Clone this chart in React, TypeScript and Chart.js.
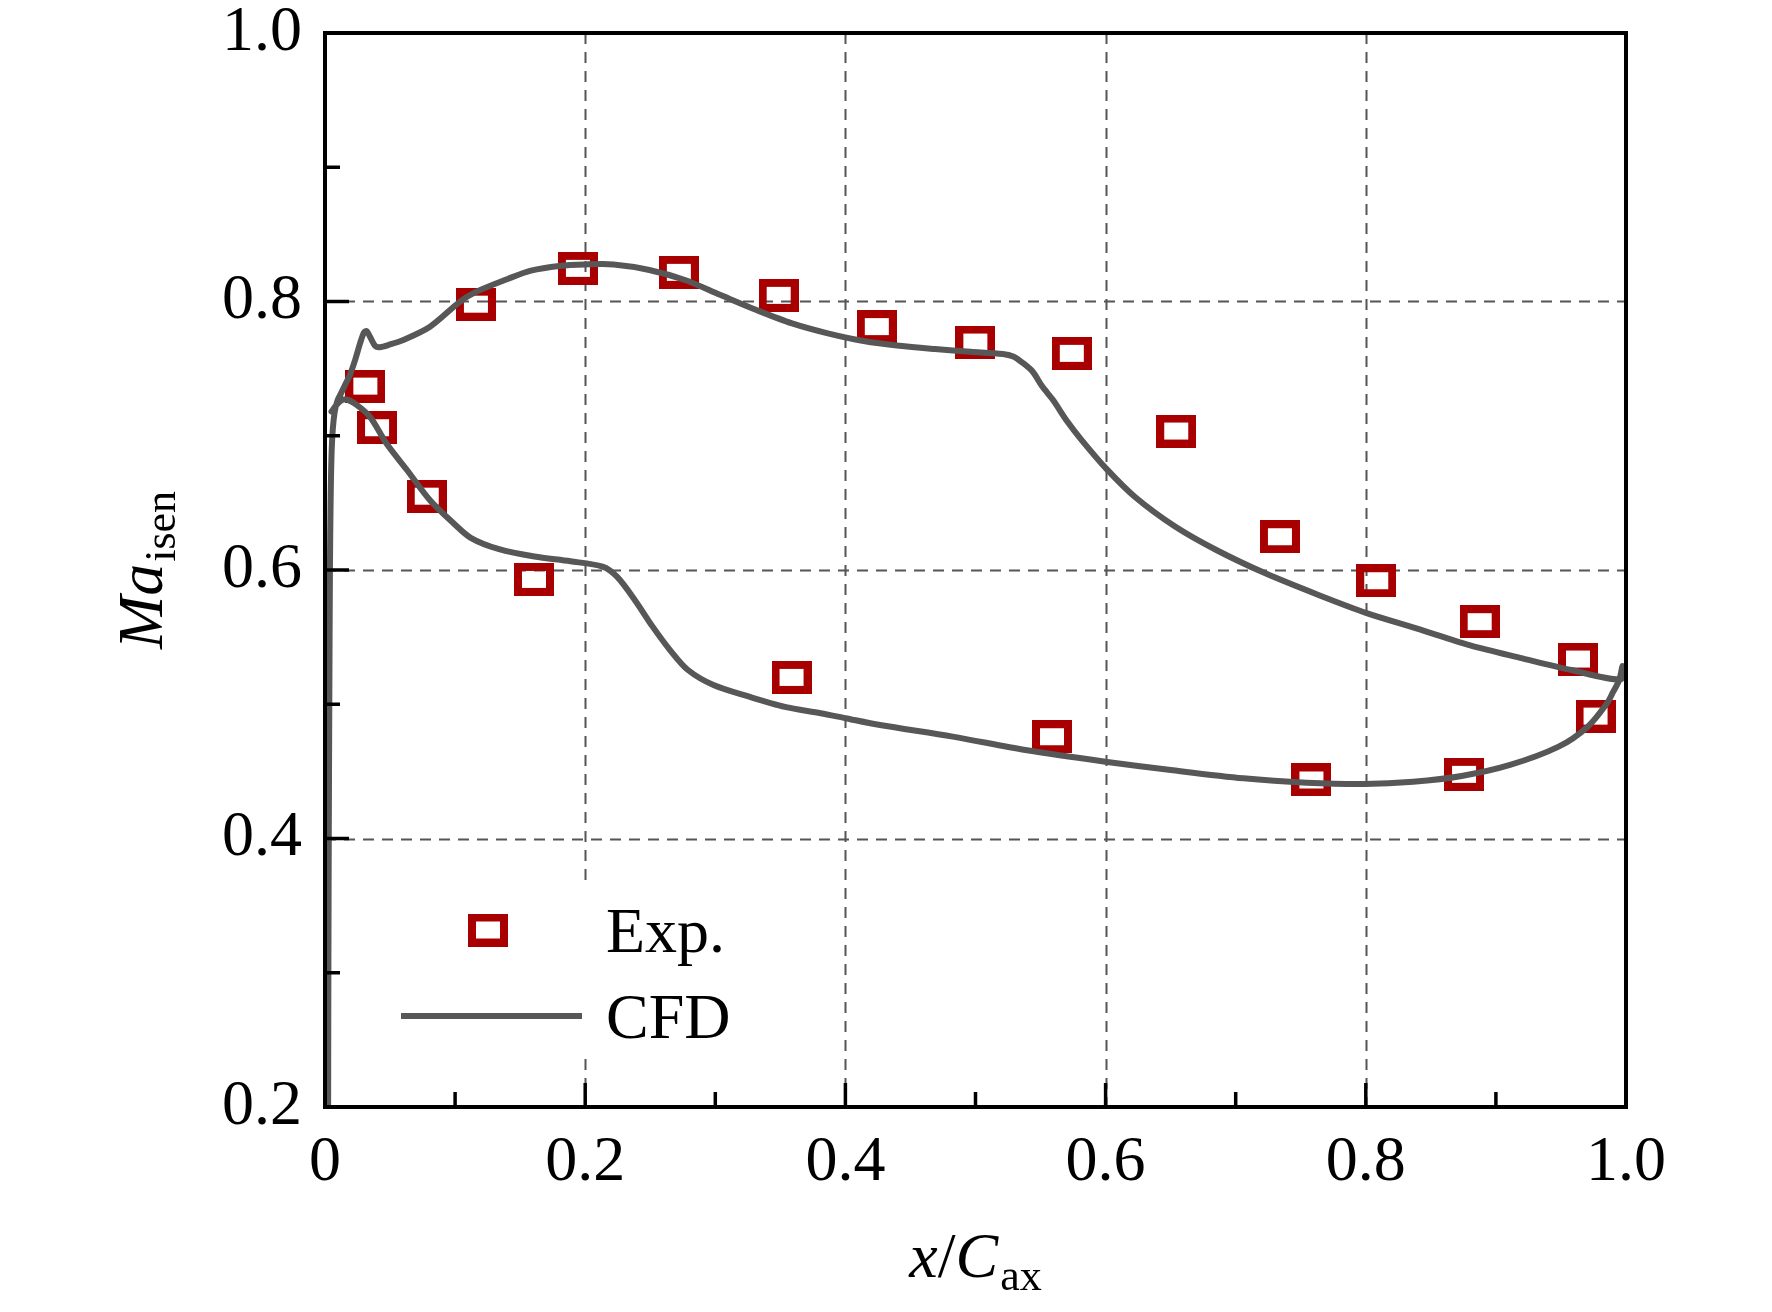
import React, { useEffect, useRef } from 'react';
import { Chart, registerables } from 'chart.js';

Chart.register(...registerables);

// ---------------- data ----------------
const expX = [0.031, 0.040, 0.0782, 0.116, 0.1606, 0.1944, 0.272, 0.3487, 0.3586, 0.4241, 0.4999,
  0.5588, 0.574, 0.6543, 0.734, 0.7582, 0.8080, 0.8755, 0.8875, 0.9631, 0.9766];
const expY = [0.737, 0.706, 0.655, 0.798, 0.593, 0.8247, 0.8217, 0.8046, 0.520, 0.7813, 0.7698,
  0.4758, 0.7614, 0.7035, 0.6248, 0.4436, 0.592, 0.4478, 0.5615, 0.5337, 0.4912];

const cfdX = [
  0.0024, 0.0026, 0.0029, 0.0033, 0.0038, 0.0043, 0.0050, 0.0060, 0.0075, 0.0095, 0.0120,
  0.0150, 0.0190, 0.0230, 0.0270, 0.0300, 0.0320, 0.0350, 0.0385, 0.0420, 0.0500, 0.0602,
  0.0807, 0.1038, 0.1157, 0.1409, 0.1583, 0.1800, 0.2000, 0.2218, 0.2493, 0.2767, 0.3041,
  0.3316, 0.3590, 0.3865, 0.4140, 0.4414, 0.4689, 0.4963, 0.5210, 0.5290, 0.5360, 0.5440,
  0.5511, 0.5596, 0.5703, 0.5816, 0.6003, 0.6224, 0.6537, 0.6851, 0.7228, 0.7636, 0.8012,
  0.8388, 0.8796, 0.9204, 0.9580, 0.9960, 0.9972,
  0.9948, 0.9900, 0.9854, 0.9706, 0.9482, 0.9109, 0.8737, 0.8364, 0.7991, 0.7545, 0.7060,
  0.6501, 0.5998, 0.5383, 0.4825, 0.4266, 0.4000, 0.3810, 0.3535, 0.3260, 0.2986, 0.2790,
  0.2655, 0.2517, 0.2381, 0.2244, 0.2133, 0.1887, 0.1610, 0.1338, 0.1120, 0.0986, 0.0807,
  0.0630, 0.0474, 0.0346, 0.0243, 0.0167, 0.0120, 0.0080, 0.0050,
];
const cfdY = [
  0.200, 0.300, 0.400, 0.500, 0.600, 0.650, 0.685, 0.705, 0.718, 0.726, 0.731,
  0.737, 0.745, 0.756, 0.769, 0.777, 0.778, 0.773, 0.767, 0.766, 0.768, 0.7713,
  0.7812, 0.7999, 0.807, 0.817, 0.823, 0.8265, 0.8276, 0.8276, 0.8235, 0.8160, 0.8048,
  0.7937, 0.7837, 0.7763, 0.7706, 0.7670, 0.7646, 0.7626, 0.7609, 0.7590, 0.7545, 0.7477,
  0.7370, 0.7266, 0.7110, 0.6968, 0.6757, 0.6546, 0.6322, 0.6149, 0.5975, 0.5814, 0.5677,
  0.5566, 0.5441, 0.5342, 0.5255, 0.5185, 0.5285,
  0.5180, 0.5090, 0.5007, 0.4833, 0.4684, 0.4548, 0.4466, 0.4423, 0.4406, 0.4416, 0.4448,
  0.4510, 0.4572, 0.4659, 0.4759, 0.4845, 0.4896, 0.4933, 0.4980, 0.5056, 0.5143, 0.5255,
  0.5400, 0.5580, 0.5777, 0.5950, 0.6025, 0.6065, 0.6100, 0.6155, 0.6240, 0.6350, 0.6520,
  0.6745, 0.6940, 0.7140, 0.7230, 0.7270, 0.7260, 0.7220, 0.7180,
];

const xMajor = [0.2, 0.4, 0.6, 0.8];
const xMinor = [0.1, 0.3, 0.5, 0.7, 0.9];
const yMajor = [0.4, 0.6, 0.8];
const yMinor = [0.3, 0.5, 0.7, 0.9];
const legendLabels = ['Exp.', 'CFD'];

// ---------------- styles ----------------
const SERIF = "'Liberation Serif', 'Times New Roman', Times, serif";
const RED = '#a80000';
const GRAY = '#575757';

function makeMarker(): HTMLCanvasElement {
  const c = document.createElement('canvas');
  c.width = 40;
  c.height = 33;
  const g = c.getContext('2d')!;
  g.strokeStyle = RED;
  g.lineWidth = 8;
  g.strokeRect(4, 4, 32, 25);
  return c;
}

const fmt = (v: number | string) => {
  const n = Number(v);
  return Math.abs(n) < 1e-9 ? '0' : n.toFixed(1);
};

export default function App() {
  const ref = useRef<HTMLCanvasElement>(null);

  useEffect(() => {
    document.body.style.margin = '0';
    const marker = makeMarker();

    const framePlugin = {
      id: 'frame',
      beforeDatasetsDraw(chart: any) {
        const { ctx, chartArea: a, scales } = chart;
        const xs = scales.x;
        const ys = scales.y;
        ctx.save();
        ctx.strokeStyle = '#555555';
        ctx.lineWidth = 2;
        ctx.setLineDash([11, 8]);
        xMajor.forEach((v) => {
          const px = Math.round(xs.getPixelForValue(v)) + 0.5;
          ctx.beginPath();
          ctx.moveTo(px, a.top);
          ctx.lineTo(px, a.bottom);
          ctx.stroke();
        });
        yMajor.forEach((v) => {
          const py = Math.round(ys.getPixelForValue(v)) + 0.5;
          ctx.beginPath();
          ctx.moveTo(a.left, py);
          ctx.lineTo(a.right, py);
          ctx.stroke();
        });
        ctx.setLineDash([]);
        // legend background box
        ctx.fillStyle = '#ffffff';
        ctx.fillRect(a.left + 20, a.bottom - 224, 440, 170);
        ctx.restore();
      },
      afterDatasetsDraw(chart: any) {
        const { ctx, chartArea: a, scales } = chart;
        const xs = scales.x;
        const ys = scales.y;
        ctx.save();
        // frame
        ctx.strokeStyle = '#000';
        ctx.lineWidth = 4;
        ctx.strokeRect(a.left, a.top, a.right - a.left, a.bottom - a.top);
        // inward ticks
        ctx.lineWidth = 3.5;
        const seg = (x1: number, y1: number, x2: number, y2: number) => {
          ctx.beginPath();
          ctx.moveTo(x1, y1);
          ctx.lineTo(x2, y2);
          ctx.stroke();
        };
        xMajor.forEach((v) => { const p = xs.getPixelForValue(v); seg(p, a.bottom, p, a.bottom - 24); });
        xMinor.forEach((v) => { const p = xs.getPixelForValue(v); seg(p, a.bottom, p, a.bottom - 15); });
        yMajor.forEach((v) => { const p = ys.getPixelForValue(v); seg(a.left, p, a.left + 24, p); });
        yMinor.forEach((v) => { const p = ys.getPixelForValue(v); seg(a.left, p, a.left + 15, p); });

        // legend
        const lx = a.left + 163;
        const row1 = a.bottom - 177;
        const row2 = a.bottom - 91;
        ctx.drawImage(marker, lx - marker.width / 2, row1 - marker.height / 2);
        ctx.strokeStyle = GRAY;
        ctx.lineWidth = 6;
        seg(a.left + 76, row2, a.left + 257, row2);
        ctx.fillStyle = '#000';
        ctx.font = `64px ${SERIF}`;
        ctx.textAlign = 'left';
        ctx.textBaseline = 'alphabetic';
        ctx.fillText(legendLabels[0], a.left + 281, row1 + 22);
        ctx.fillText(legendLabels[1], a.left + 281, row2 + 22);

        // x axis title: x/C_ax
        const mainF = `italic 64px ${SERIF}`;
        const upF = `64px ${SERIF}`;
        const subF = `44px ${SERIF}`;
        ctx.font = mainF; const wx = ctx.measureText('x').width;
        ctx.font = upF; const ws = ctx.measureText('/').width;
        ctx.font = mainF; const wc = ctx.measureText('C').width;
        ctx.font = subF; const wsub = ctx.measureText('ax').width;
        const total = wx + ws + wc + wsub + 2;
        let cx = (a.left + a.right) / 2 - total / 2;
        const bl = 1277;
        ctx.font = mainF; ctx.fillText('x', cx, bl); cx += wx;
        ctx.font = upF; ctx.fillText('/', cx, bl); cx += ws;
        ctx.font = mainF; ctx.fillText('C', cx, bl); cx += wc + 2;
        ctx.font = subF; ctx.fillText('ax', cx, bl + 13);

        // y axis title: Ma_isen (rotated)
        ctx.font = mainF; const wMa = ctx.measureText('Ma').width;
        ctx.font = subF; const wIs = ctx.measureText('isen').width;
        const ytot = wMa + wIs + 2;
        const cy = (a.top + a.bottom) / 2;
        ctx.translate(162, cy + ytot / 2);
        ctx.rotate(-Math.PI / 2);
        ctx.font = mainF; ctx.fillText('Ma', 0, 0);
        ctx.font = subF; ctx.fillText('isen', wMa + 2, 13);
        ctx.restore();
      },
    };

    const tickFont = { family: SERIF, size: 64, lineHeight: 1 };

    const chart = new Chart(ref.current!, {
      type: 'scatter',
      data: {
        datasets: [
          {
            label: 'CFD',
            data: cfdX.map((x, i) => ({ x, y: cfdY[i] })),
            showLine: true,
            borderColor: GRAY,
            backgroundColor: GRAY,
            borderWidth: 6,
            pointRadius: 0,
            pointHoverRadius: 0,
            tension: 0.3,
            fill: false,
            order: 0,
            borderJoinStyle: 'round',
            borderCapStyle: 'round',
          } as any,
          {
            label: 'Exp.',
            data: expX.map((x, i) => ({ x, y: expY[i] })),
            showLine: false,
            pointStyle: marker,
            pointRadius: 20,
            borderColor: RED,
            backgroundColor: 'rgba(0,0,0,0)',
            order: 1,
          } as any,
        ],
      },
      options: {
        animation: false,
        responsive: true,
        maintainAspectRatio: false,
        devicePixelRatio: 1,
        events: [],
        layout: { padding: { top: 33, right: 146, left: 0, bottom: 0 } },
        plugins: {
          legend: { display: false },
          tooltip: { enabled: false },
        },
        scales: {
          x: {
            type: 'linear',
            min: 0,
            max: 1,
            afterFit: (s: any) => {
              s.height = 205;
              s.paddingLeft = 0; s.paddingRight = 0; s.paddingTop = 0; s.paddingBottom = 0;
            },
            grid: { display: false, drawTicks: false },
            border: { display: false },
            ticks: {
              stepSize: 0.2,
              autoSkip: false,
              maxRotation: 0,
              padding: 24,
              color: '#000',
              font: tickFont,
              callback: (v: any) => fmt(v),
            },
          },
          y: {
            type: 'linear',
            min: 0.2,
            max: 1.0,
            afterFit: (s: any) => {
              s.width = 325;
              s.paddingLeft = 0; s.paddingRight = 0; s.paddingTop = 0; s.paddingBottom = 0;
            },
            grid: { display: false, drawTicks: false },
            border: { display: false },
            ticks: {
              stepSize: 0.2,
              autoSkip: false,
              padding: 23,
              color: '#000',
              font: tickFont,
              callback: (v: any) => fmt(v),
            },
          },
        },
      } as any,
      plugins: [framePlugin],
    });
    return () => chart.destroy();
  }, []);

  return (
    <div style={{ width: 1772, height: 1312, position: 'relative', background: '#fff' }}>
      <canvas ref={ref} />
    </div>
  );
}
